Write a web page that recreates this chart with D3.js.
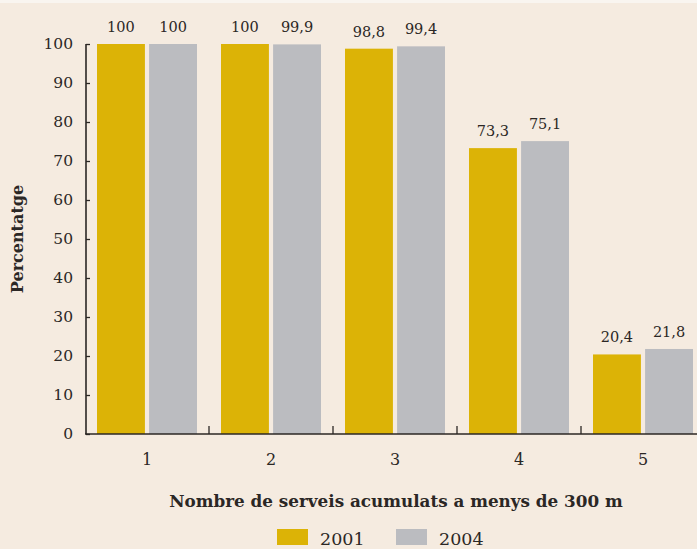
<!DOCTYPE html>
<html><head><meta charset="utf-8">
<script src="https://cdn.jsdelivr.net/npm/d3@7"></script>
<style>html,body{margin:0;padding:0;background:#f5ebe0;}svg{display:block;}</style>
</head><body>
<script>
const categories = ["1","2","3","4","5"];
const seriesNames = ["2001","2004"];
const values2001 = [100, 100, 98.8, 73.3, 20.4];
const values2004 = [100, 99.9, 99.4, 75.1, 21.8];
const valueLabels2001 = ["100","100","98,8","73,3","20,4"];
const valueLabels2004 = ["100","99,9","99,4","75,1","21,8"];
const yTicks = [0,10,20,30,40,50,60,70,80,90,100];
const colors = ["#dcb306","#bbbcc0"];

const W = 697, H = 549;
const font = "'DejaVu Serif', 'Liberation Serif', serif";
const ink = "#2b2725";
const svg = d3.select("body").append("svg").attr("width", W).attr("height", H);
svg.append("rect").attr("width", W).attr("height", H).attr("fill", "#f5ebe0");
svg.append("rect").attr("width", W).attr("height", 3).attr("fill", "#f9f5f0");

const y = d3.scaleLinear().domain([0,100]).range([434,44]);
const x = d3.scaleBand().domain(categories).range([85,705]);
const xs = d3.scaleBand().domain(seriesNames).range([12,112]).paddingInner(0.08);

const data = categories.map((c,i)=>({c, vals:[
  {s:"2001", v:values2001[i], l:valueLabels2001[i]},
  {s:"2004", v:values2004[i], l:valueLabels2004[i]}]}));

const g = svg.append("g").selectAll("g").data(data).join("g")
  .attr("transform", d=>`translate(${x(d.c)},0)`);
g.selectAll("rect").data(d=>d.vals).join("rect")
  .attr("x", d=>xs(d.s)).attr("width", xs.bandwidth())
  .attr("y", d=>y(d.v)).attr("height", d=>y(0)-y(d.v))
  .attr("fill", (d,i)=>colors[i]);
g.selectAll("text").data(d=>d.vals).join("text")
  .attr("x", d=>xs(d.s)+xs.bandwidth()/2).attr("y", d=>y(d.v)-12)
  .attr("text-anchor","middle").attr("font-family",font).attr("font-size",14.5)
  .attr("fill",ink).text(d=>d.l);

// Y axis
const yAxis = svg.append("g").attr("transform","translate(86,0)")
  .call(d3.axisRight(y).tickValues(yTicks).tickSize(4).tickFormat(""));
yAxis.select(".domain").attr("stroke",ink).attr("stroke-width",1.6).attr("d","M0,44V434");
yAxis.selectAll(".tick line").attr("stroke",ink).attr("stroke-width",1.3);
svg.append("g").selectAll("text").data(yTicks).join("text")
  .attr("x",73).attr("y",d=>y(d)+5).attr("text-anchor","end")
  .attr("font-family",font).attr("font-size",15.5).attr("fill",ink).text(d=>d);

// X axis
svg.append("line").attr("x1",85).attr("x2",W).attr("y1",434).attr("y2",434)
  .attr("stroke",ink).attr("stroke-width",1.6);
svg.append("g").selectAll("line").data(categories.slice(1)).join("line")
  .attr("x1",d=>x(d)).attr("x2",d=>x(d)).attr("y1",426).attr("y2",434)
  .attr("stroke",ink).attr("stroke-width",1.3);
svg.append("g").selectAll("text").data(categories).join("text")
  .attr("x",d=>x(d)+x.bandwidth()/2).attr("y",465).attr("text-anchor","middle")
  .attr("font-family",font).attr("font-size",16).attr("fill",ink).text(d=>d);

svg.append("text").attr("x",396).attr("y",507).attr("text-anchor","middle")
  .attr("font-family",font).attr("font-size",16.8).attr("font-weight","bold")
  .attr("fill",ink).text("Nombre de serveis acumulats a menys de 300 m");

svg.append("text").attr("transform","translate(23,239) rotate(-90)")
  .attr("text-anchor","middle").attr("font-family",font).attr("font-size",16)
  .attr("font-weight","bold").attr("fill",ink).text("Percentatge");

// Legend
const legX = [277,396];
const leg = svg.append("g").selectAll("g").data(seriesNames).join("g")
  .attr("transform",(d,i)=>`translate(${legX[i]},529)`);
leg.append("rect").attr("width",31).attr("height",16).attr("fill",(d,i)=>colors[i]);
leg.append("text").attr("x",43).attr("y",16).attr("font-family",font)
  .attr("font-size",17.5).attr("fill",ink).text(d=>d);
</script>
</body></html>
